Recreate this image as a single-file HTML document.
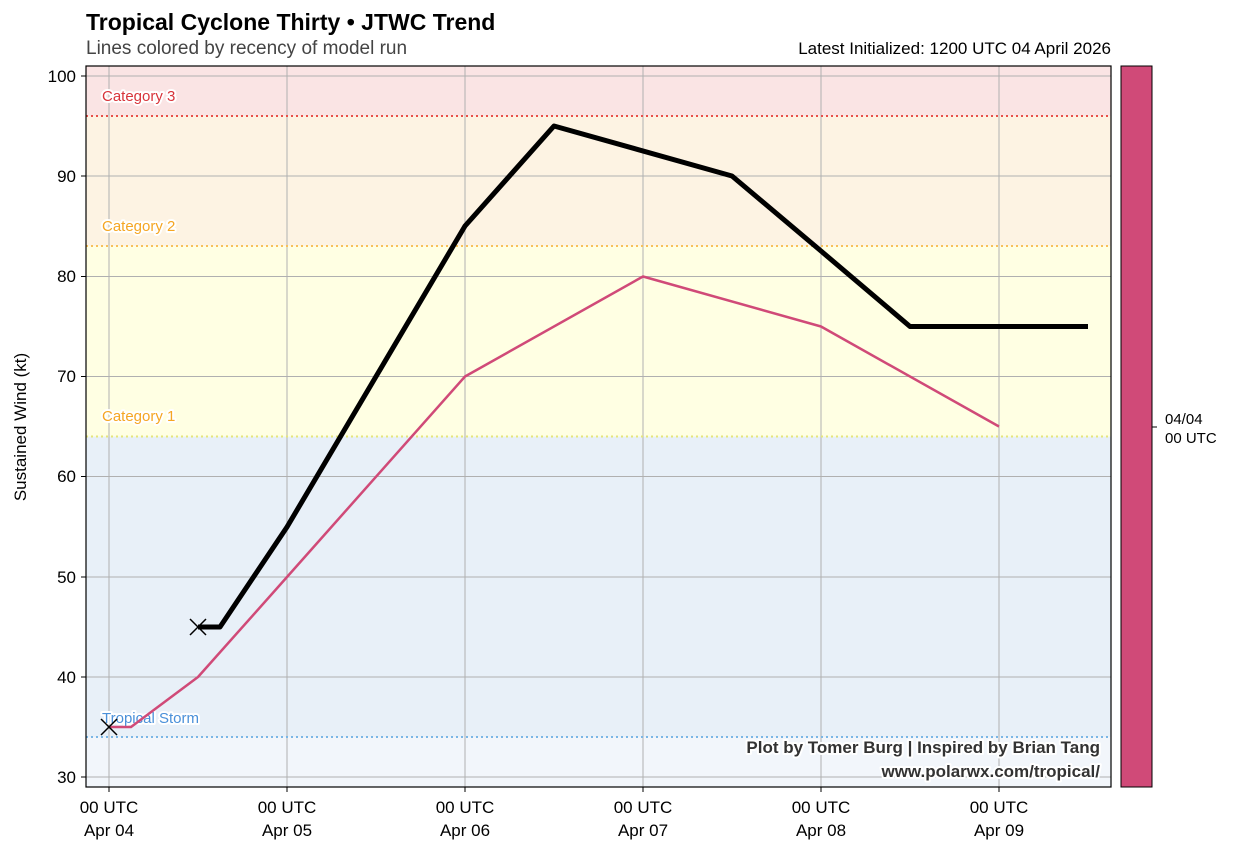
<!DOCTYPE html><html><head><meta charset="utf-8"><style>body{margin:0;background:#fff}svg{display:block;font-family:"Liberation Sans",sans-serif}</style></head><body>
<svg width="1237" height="853" viewBox="0 0 1237 853" xmlns="http://www.w3.org/2000/svg">
<rect width="1237" height="853" fill="#fff"/>
<rect x="86" y="66" width="1025" height="50" fill="#fae4e4"/>
<rect x="86" y="116" width="1025" height="130" fill="#fdf3e3"/>
<rect x="86" y="246" width="1025" height="190.5" fill="#ffffe3"/>
<rect x="86" y="436.5" width="1025" height="300.5" fill="#e8f0f8"/>
<rect x="86" y="737" width="1025" height="50" fill="#f2f6fb"/>
<g stroke="#b0b0b0" stroke-width="1">
<line x1="109" y1="66" x2="109" y2="787"/><line x1="287" y1="66" x2="287" y2="787"/><line x1="465" y1="66" x2="465" y2="787"/><line x1="643" y1="66" x2="643" y2="787"/><line x1="821" y1="66" x2="821" y2="787"/><line x1="999" y1="66" x2="999" y2="787"/>
<line x1="86" y1="76" x2="1111" y2="76"/><line x1="86" y1="176" x2="1111" y2="176"/><line x1="86" y1="276.5" x2="1111" y2="276.5"/><line x1="86" y1="376.5" x2="1111" y2="376.5"/><line x1="86" y1="476.5" x2="1111" y2="476.5"/><line x1="86" y1="577" x2="1111" y2="577"/><line x1="86" y1="677" x2="1111" y2="677"/><line x1="86" y1="777" x2="1111" y2="777"/>
</g>
<g stroke-width="2" stroke-dasharray="2,3">
<line x1="86" y1="116" x2="1111" y2="116" stroke="#e8504a"/>
<line x1="86" y1="246" x2="1111" y2="246" stroke="#f8c05a"/>
<line x1="86" y1="436.5" x2="1111" y2="436.5" stroke="#e6e67a"/>
<line x1="86" y1="737" x2="1111" y2="737" stroke="#7ab6e6"/>
</g>
<g font-size="15" stroke="#fff" stroke-width="4" paint-order="stroke" stroke-linejoin="round">
<text x="102" y="101" fill="#d8343a">Category 3</text>
<text x="102" y="231" fill="#f5a623">Category 2</text>
<text x="102" y="421" fill="#f5a623">Category 1</text>
<text x="102" y="723" fill="#4a90d9">Tropical Storm</text>
</g>
<polyline fill="none" stroke="#d04a78" stroke-width="2.5" stroke-linejoin="round" points="109,727 131,727 198,677 287,577 465,376.5 643,276.5 821,326.5 999,426.5"/>
<polyline fill="none" stroke="#000" stroke-width="5" stroke-linejoin="round" points="198,627 220,627 287,527 465,226 554,126 732,176 821,251 910,326.5 1088,326.5"/>
<g stroke="#000" stroke-width="1.5">
<path d="M101,719 l16,16 M117,719 l-16,16"/><path d="M190,619 l16,16 M206,619 l-16,16"/>
</g>
<g font-size="17" font-weight="bold" fill="#333" text-anchor="end" stroke="#fff" stroke-width="4" paint-order="stroke" stroke-linejoin="round">
<text x="1100" y="753">Plot by Tomer Burg | Inspired by Brian Tang</text>
<text x="1100" y="777">www.polarwx.com/tropical/</text>
</g>
<rect x="86" y="66" width="1025" height="721" fill="none" stroke="#000" stroke-width="1.2"/>
<g font-size="17" fill="#000" text-anchor="end">
<text x="76" y="82">100</text><text x="76" y="182">90</text><text x="76" y="282">80</text><text x="76" y="382">70</text><text x="76" y="482">60</text><text x="76" y="583">50</text><text x="76" y="683">40</text><text x="76" y="783">30</text>
</g>
<g stroke="#000"><line x1="81" y1="76" x2="86" y2="76"/><line x1="81" y1="176" x2="86" y2="176"/><line x1="81" y1="276.5" x2="86" y2="276.5"/><line x1="81" y1="376.5" x2="86" y2="376.5"/><line x1="81" y1="476.5" x2="86" y2="476.5"/><line x1="81" y1="577" x2="86" y2="577"/><line x1="81" y1="677" x2="86" y2="677"/><line x1="81" y1="777" x2="86" y2="777"/>
<line x1="109" y1="787" x2="109" y2="792"/><line x1="287" y1="787" x2="287" y2="792"/><line x1="465" y1="787" x2="465" y2="792"/><line x1="643" y1="787" x2="643" y2="792"/><line x1="821" y1="787" x2="821" y2="792"/><line x1="999" y1="787" x2="999" y2="792"/></g>
<g font-size="17" fill="#000" text-anchor="middle">
<text x="109" y="813">00 UTC</text><text x="109" y="836">Apr 04</text>
<text x="287" y="813">00 UTC</text><text x="287" y="836">Apr 05</text>
<text x="465" y="813">00 UTC</text><text x="465" y="836">Apr 06</text>
<text x="643" y="813">00 UTC</text><text x="643" y="836">Apr 07</text>
<text x="821" y="813">00 UTC</text><text x="821" y="836">Apr 08</text>
<text x="999" y="813">00 UTC</text><text x="999" y="836">Apr 09</text>
</g>
<text transform="translate(26,427) rotate(-90)" font-size="17" text-anchor="middle">Sustained Wind (kt)</text>
<text x="86" y="30" font-size="23" font-weight="bold">Tropical Cyclone Thirty • JTWC Trend</text>
<text x="86" y="54" font-size="19" fill="#444">Lines colored by recency of model run</text>
<text x="1111" y="54" font-size="17" text-anchor="end">Latest Initialized: 1200 UTC 04 April 2026</text>
<rect x="1121" y="66" width="31" height="721" fill="#d04a78" stroke="#000" stroke-width="1"/>
<line x1="1152" y1="427" x2="1157" y2="427" stroke="#000"/>
<text x="1165" y="424" font-size="15">04/04</text><text x="1165" y="443" font-size="15">00 UTC</text>
</svg></body></html>
